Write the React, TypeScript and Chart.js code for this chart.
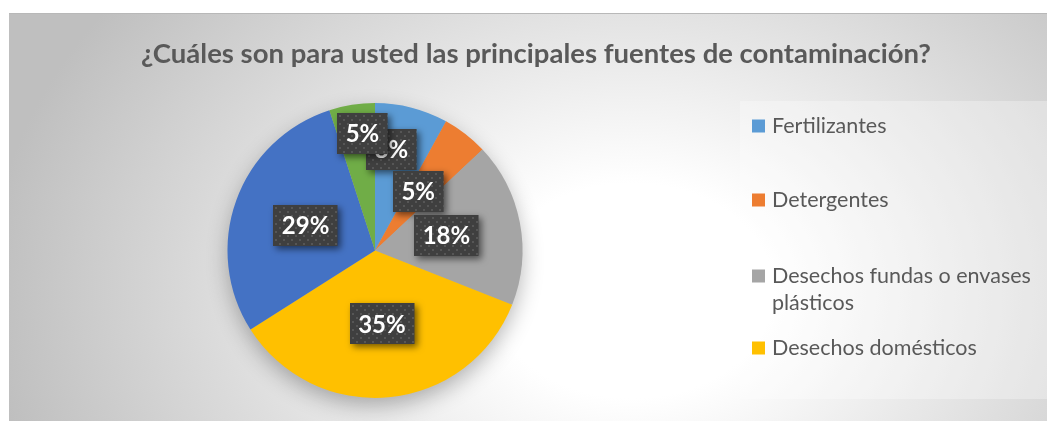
import React, { useEffect, useRef } from "react";
import { Chart, registerables } from "chart.js";

Chart.register(...registerables);

// ---------- data ----------
const chartTitle = "¿Cuáles son para usted las principales fuentes de contaminación?";
const categories = [
  "Fertilizantes",
  "Detergentes",
  "Desechos fundas o envases plásticos",
  "Desechos domésticos",
  "Desechos industriales",
  "Otros",
];
const values = [8, 5, 18, 35, 29, 5];
const sliceColors = ["#5B9BD5", "#ED7D31", "#A5A5A5", "#FFC000", "#4472C4", "#70AD47"];
const legendVisibleCount = 4; // the last entries are clipped in the original legend

// ---------- layout / style ----------
const W = 1038;
const H = 408;
const FONT = "Lato, 'Open Sans', sans-serif";
const TITLE_SIZE = 27.5;
const TITLE_CX = 527;
const TITLE_CY = 40;
const LEGEND_BOX = { x: 731, y: 87, w: 307, h: 298 };
const LEGEND_ROWS_Y = [112, 186, 262, 334];
const LEGEND_LINE_H = 27;
const LEGEND_SQ_X = 743;
const LEGEND_SQ = 13;
const LEGEND_TEXT_X = 763;
const LEGEND_TEXT_MAX = 274;
const LEGEND_SIZE = 21.5;
const LABEL_SIZE = 24;
const LABEL_RADIUS = 0.5;
const labelNudge: [number, number][] = [
  [-2, -30],
  [-2, -1],
  [-1, -1],
  [0, 0],
  [0, 0],
  [-1, -44],
];

function makePattern(ctx: CanvasRenderingContext2D) {
  const c = document.createElement("canvas");
  c.width = 8;
  c.height = 8;
  const p = c.getContext("2d")!;
  p.fillStyle = "#3f3f3f";
  p.fillRect(0, 0, 8, 8);
  p.fillStyle = "#565656";
  p.fillRect(2, 2, 2, 2);
  p.fillRect(6, 6, 2, 2);
  return ctx.createPattern(c, "repeat");
}

const decoPlugin = {
  id: "excelDeco",
  beforeDraw(chart: any) {
    const ctx: CanvasRenderingContext2D = chart.ctx;
    ctx.save();
    // legend background
    ctx.fillStyle = "rgba(255,255,255,0.3)";
    ctx.fillRect(LEGEND_BOX.x, LEGEND_BOX.y, LEGEND_BOX.w, LEGEND_BOX.h);
    // title
    ctx.font = `bold ${TITLE_SIZE}px ${FONT}`;
    ctx.fillStyle = "#595959";
    ctx.textAlign = "center";
    ctx.textBaseline = "middle";
    ctx.fillText(chartTitle, TITLE_CX, TITLE_CY);
    // legend
    ctx.font = `${LEGEND_SIZE}px ${FONT}`;
    ctx.textAlign = "left";
    for (let i = 0; i < legendVisibleCount; i++) {
      const y = LEGEND_ROWS_Y[i];
      ctx.fillStyle = sliceColors[i];
      ctx.fillRect(LEGEND_SQ_X, y - LEGEND_SQ / 2, LEGEND_SQ, LEGEND_SQ);
      const words = categories[i].split(" ");
      const lines: string[] = [];
      let cur = "";
      for (const wd of words) {
        const t = cur ? cur + " " + wd : wd;
        if (ctx.measureText(t).width > LEGEND_TEXT_MAX && cur) {
          lines.push(cur);
          cur = wd;
        } else cur = t;
      }
      if (cur) lines.push(cur);
      ctx.fillStyle = "#595959";
      lines.forEach((ln, k) => ctx.fillText(ln, LEGEND_TEXT_X, y + k * LEGEND_LINE_H));
    }
    ctx.restore();
  },
  beforeDatasetsDraw(chart: any) {
    const ctx: CanvasRenderingContext2D = chart.ctx;
    const arc = chart.getDatasetMeta(0).data[0];
    if (!arc) return;
    const { x, y, outerRadius } = arc.getProps(["x", "y", "outerRadius"], true);
    ctx.save();
    ctx.shadowColor = "rgba(0,0,0,0.3)";
    ctx.shadowBlur = 22;
    ctx.shadowOffsetY = 8;
    ctx.beginPath();
    ctx.arc(x, y, outerRadius - 1, 0, Math.PI * 2);
    ctx.fillStyle = "#aaaaaa";
    ctx.fill();
    ctx.restore();
  },
  afterDatasetsDraw(chart: any) {
    const ctx: CanvasRenderingContext2D = chart.ctx;
    const meta = chart.getDatasetMeta(0);
    const total = values.reduce((a, b) => a + b, 0);
    const pattern = makePattern(ctx);
    ctx.save();
    ctx.font = `bold ${LABEL_SIZE}px ${FONT}`;
    meta.data.forEach((el: any, i: number) => {
      const p = el.getProps(["x", "y", "startAngle", "endAngle", "outerRadius"], true);
      const mid = (p.startAngle + p.endAngle) / 2;
      const cx = p.x + Math.cos(mid) * p.outerRadius * LABEL_RADIUS + labelNudge[i][0];
      const cy = p.y + Math.sin(mid) * p.outerRadius * LABEL_RADIUS + labelNudge[i][1];
      const txt = Math.round((values[i] / total) * 100) + "%";
      const tw = ctx.measureText(txt).width;
      const bw = tw + 17;
      const bh = 41;
      ctx.save();
      ctx.shadowColor = "rgba(0,0,0,0.55)";
      ctx.shadowBlur = 7;
      ctx.shadowOffsetX = 3;
      ctx.shadowOffsetY = 3;
      ctx.fillStyle = pattern || "#404040";
      ctx.translate(Math.round(cx - bw / 2), Math.round(cy - bh / 2));
      ctx.fillRect(0, 0, bw, bh);
      ctx.restore();
      ctx.fillStyle = "#ffffff";
      ctx.textAlign = "center";
      ctx.textBaseline = "middle";
      ctx.fillText(txt, cx, cy + 1);
    });
    ctx.restore();
  },
};

export default function App() {
  const ref = useRef<HTMLCanvasElement | null>(null);
  useEffect(() => {
    document.body.style.overflow = "hidden";
    const canvas = ref.current!;
    const chart = new Chart(canvas, {
      type: "pie",
      data: {
        labels: categories,
        datasets: [
          {
            data: values,
            backgroundColor: sliceColors,
            borderWidth: 0,
            hoverOffset: 0,
            offset: 0,
          },
        ],
      },
      options: {
        responsive: false,
        animation: false,
        events: [],
        layout: { padding: { left: 218, top: 89, right: 524, bottom: 23 } },
        plugins: {
          legend: { display: false },
          title: { display: false },
          tooltip: { enabled: false },
        },
      },
      plugins: [decoPlugin],
    });
    return () => chart.destroy();
  }, []);
  return (
    <div
      style={{
        position: "absolute",
        left: 9,
        top: 13,
        width: W,
        height: H,
        borderTop: "1px solid #b8b8b8",
        boxSizing: "border-box",
        background:
          "radial-gradient(ellipse 62% 120% at 60% 68%, #ffffff 0%, #ffffff 22%, #bfbfbf 100%)",
      }}
    >
      <canvas ref={ref} width={W} height={H - 1} style={{ display: "block" }} />
    </div>
  );
}
